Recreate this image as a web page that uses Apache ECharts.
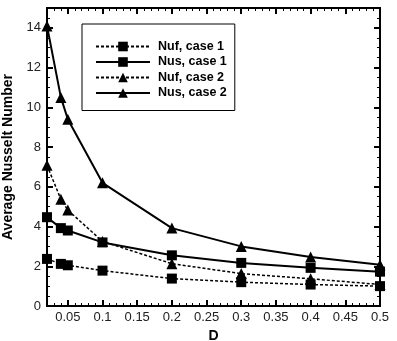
<!DOCTYPE html>
<html>
<head>
<meta charset="utf-8">
<script src="https://cdn.jsdelivr.net/npm/echarts@6/dist/echarts.min.js"></script>
<style>
  html, body { margin: 0; padding: 0; background: #fff; }
</style>
</head>
<body>
<div id="myChart" style="width: 397px; height: 341px"></div>
<script>
// data
const dValues = [0.02, 0.04, 0.05, 0.1, 0.2, 0.3, 0.4, 0.5];
const nufCase1 = [2.37, 2.12, 2.05, 1.78, 1.38, 1.2, 1.08, 1.0];
const nusCase1 = [4.47, 3.92, 3.8, 3.2, 2.55, 2.17, 1.92, 1.73];
const nufCase2 = [7.08, 5.37, 4.83, 3.25, 2.13, 1.63, 1.37, 1.08];
const nusCase2 = [14.1, 10.5, 9.4, 6.2, 3.92, 3.0, 2.47, 2.08];

// tick labels
const xLabels = [0.05, 0.1, 0.15, 0.2, 0.25, 0.3, 0.35, 0.4, 0.45, 0.5];
const yLabels = [0, 2, 4, 6, 8, 10, 12, 14];
// major ticks inside the frame (the ones on the frame edge are the frame itself)
const xMajorTicks = [0.05, 0.1, 0.15, 0.2, 0.25, 0.3, 0.35, 0.4, 0.45];
const yMajorTicks = [2, 4, 6, 8, 10, 12, 14];

// minor tick positions (every 0.01 on D, every 0.5 on Nu)
let xMinorTicks = [];
for (let i = 3; i < 50; i++) if (i % 5) xMinorTicks.push(i / 100);
let yMinorTicks = [];
for (let i = 1; i < 30; i++) if (i % 4) yMinorTicks.push(i / 2);

const pair = (ys) => dValues.map((x, i) => [x, ys[i]]);

const font = "Arial, 'Liberation Sans', sans-serif";
const box = () => ({ left: 47, right: 17, top: 8, bottom: 35, outerBoundsMode: "none" });

// grid 0 holds the data (axes hidden), grids 1-4 sit on top of it and only draw ticks/labels
function xAx(grid, pos, ticks, len, width, labels) {
  const ax = {
    type: "value", gridIndex: grid, position: pos, min: 0.02, max: 0.5,
    axisLine: { show: true, onZero: false, lineStyle: { color: "#000", width: 2 } },
    axisTick: { show: true, inside: true, length: len, customValues: ticks,
      lineStyle: { color: "#000", width: width } },
    axisLabel: { show: false },
    splitLine: { show: false },
  };
  if (labels) {
    ax.axisLabel = { show: true, customValues: labels, color: "#222",
      fontFamily: font, fontSize: 13, margin: 5 };
  }
  return ax;
}
function yAx(grid, pos, ticks, len, width, labels) {
  const ax = {
    type: "value", gridIndex: grid, position: pos, min: 0, max: 15,
    axisLine: { show: true, onZero: false, lineStyle: { color: "#000", width: 2 } },
    axisTick: { show: true, inside: true, length: len, customValues: ticks,
      lineStyle: { color: "#000", width: width } },
    axisLabel: { show: false },
    splitLine: { show: false },
  };
  if (labels) {
    ax.axisLabel = { show: true, customValues: labels, color: "#222",
      fontFamily: font, fontSize: 13, margin: 6 };
  }
  return ax;
}

const xAxes = [
  { type: "value", gridIndex: 0, min: 0.02, max: 0.5, show: false },
  xAx(1, "bottom", xMajorTicks, 6, 2, xLabels),
  xAx(2, "top", xMajorTicks, 6, 2, null),
  xAx(3, "bottom", xMinorTicks, 3, 1, null),
  xAx(4, "top", xMinorTicks, 3, 1, null),
];
xAxes[1].name = "D";
xAxes[1].nameLocation = "middle";
xAxes[1].nameGap = 13;
xAxes[1].nameTextStyle = { fontFamily: font, fontWeight: "bold", fontSize: 14, color: "#000" };

const yAxes = [
  { type: "value", gridIndex: 0, min: 0, max: 15, show: false },
  yAx(1, "left", yMajorTicks, 6, 2, yLabels),
  yAx(2, "right", yMajorTicks, 6, 2, null),
  yAx(3, "left", yMinorTicks, 3, 1, null),
  yAx(4, "right", yMinorTicks, 3, 1, null),
];
yAxes[1].name = "Average Nusselt Number";
yAxes[1].nameLocation = "middle";
yAxes[1].nameGap = 19;
yAxes[1].nameTextStyle = { fontFamily: font, fontWeight: "bold", fontSize: 14, color: "#000" };

function line(name, ys, dotted, symbol) {
  return {
    name: name, type: "line", data: pair(ys),
    xAxisIndex: 0, yAxisIndex: 0,
    symbol: symbol, symbolSize: symbol === "rect" ? 10 : 11,
    itemStyle: { color: "#000" },
    lineStyle: { color: "#000", width: dotted ? 1.5 : 2, type: dotted ? [3, 2] : "solid" },
    z: 5,
  };
}

const grids = [0, 1, 2, 3, 4].map(box);
// the frame itself, in case an axis line is not drawn
grids[0].show = true;
grids[0].borderColor = "#000";
grids[0].borderWidth = 2;
grids[0].backgroundColor = "transparent";

let myChart = echarts.init(document.getElementById("myChart"));
myChart.setOption({
  animation: false,
  grid: grids,
  legend: {
    orient: "vertical", left: 82, top: 24,
    padding: [16, 8, 11, 13],
    itemGap: 2.5, itemWidth: 54, itemHeight: 12,
    backgroundColor: "#fff", borderColor: "#000", borderWidth: 1,
    textStyle: { fontFamily: font, fontWeight: "bold", fontSize: 12.5, color: "#000", padding: [0, 0, 0, 3] },
    data: ["Nuf, case 1", "Nus, case 1", "Nuf, case 2", "Nus, case 2"],
  },
  xAxis: xAxes,
  yAxis: yAxes,
  series: [
    line("Nuf, case 1", nufCase1, true, "rect"),
    line("Nus, case 1", nusCase1, false, "rect"),
    line("Nuf, case 2", nufCase2, true, "triangle"),
    line("Nus, case 2", nusCase2, false, "triangle"),
  ],
});
</script>
</body>
</html>
